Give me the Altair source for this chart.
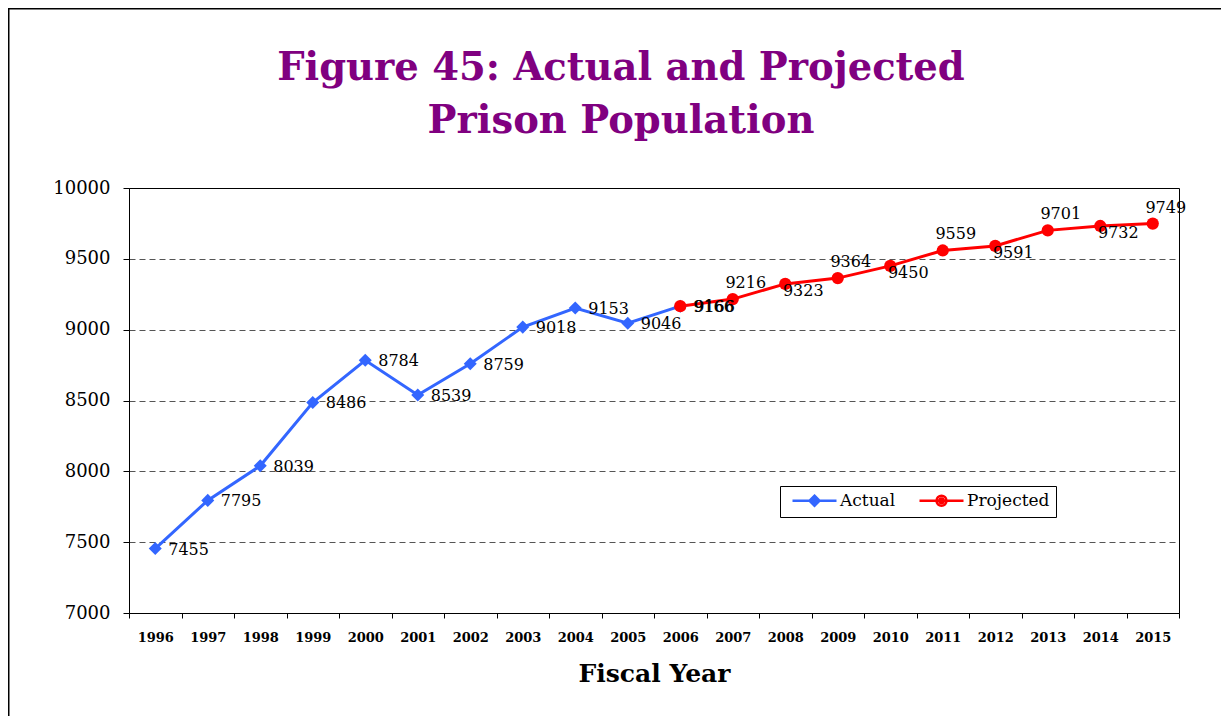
import altair as alt
import pandas as pd

# ---- data ----
years_actual = [1996, 1997, 1998, 1999, 2000, 2001, 2002, 2003, 2004, 2005, 2006]
actual = [7455, 7795, 8039, 8486, 8784, 8539, 8759, 9018, 9153, 9046, 9166]
years_projected = [2006, 2007, 2008, 2009, 2010, 2011, 2012, 2013, 2014, 2015]
projected = [9166, 9216, 9323, 9364, 9450, 9559, 9591, 9701, 9732, 9749]
series_names = ["Actual", "Projected"]
y_ticks = [7000, 7500, 8000, 8500, 9000, 9500, 10000]

df = pd.concat([
    pd.DataFrame({"year": years_actual, "value": actual, "series": series_names[0]}),
    pd.DataFrame({"year": years_projected, "value": projected, "series": series_names[1]}),
], ignore_index=True)

FONT = "DejaVu Serif"
BLUE = "#3366ff"
RED = "#ff0000"

x_enc = alt.X(
    "year:O",
    scale=alt.Scale(type="band", paddingInner=0, paddingOuter=0),
    axis=alt.Axis(
        title="Fiscal Year", labelAngle=0, labelFont=FONT, labelFontWeight="bold",
        labelFontSize=13, labelColor="black", tickBand="extent", tickSize=5,
        tickColor="black", domainColor="black", labelPadding=13,
        titleFont=FONT, titleFontSize=25, titleFontWeight="bold", titleColor="black",
        titlePadding=17, grid=False,
    ),
)
y_enc = alt.Y(
    "value:Q",
    scale=alt.Scale(domain=[7000, 10000], nice=False, zero=False),
    axis=alt.Axis(
        title=None, values=y_ticks, format="d", labelFont=FONT, labelFontSize=18,
        labelColor="black", tickSize=6, tickColor="black", domainColor="black",
        labelPadding=13,
        grid=True, gridColor="#555555", gridDash=[6, 4], gridWidth=1,
        gridOpacity=alt.condition("datum.value >= 10000 || datum.value <= 7000",
                                  alt.value(0), alt.value(1)),
    ),
)

base = alt.Chart(df)

frame = alt.Chart(pd.DataFrame({"k": [0]})).mark_rect(
    fill="transparent", stroke="black", strokeWidth=2
).encode(
    x=alt.value(-120.5), x2=alt.value(3000), y=alt.value(-179.5), y2=alt.value(3000)
)

act = base.transform_filter(alt.datum.series == "Actual")
proj = base.transform_filter(alt.datum.series == "Projected")

act_line = act.mark_line(color=BLUE, strokeWidth=3).encode(x=x_enc, y=y_enc)
proj_line = proj.mark_line(color=RED, strokeWidth=3).encode(x=x_enc, y=y_enc)
act_pts = act.mark_point(shape="diamond", filled=True, color=BLUE, size=170, opacity=1).encode(x=x_enc, y=y_enc)
proj_pts = proj.mark_point(shape="circle", filled=True, color=RED, size=150, opacity=1).encode(x=x_enc, y=y_enc)

lab_kw = dict(font=FONT, fontSize=16, color="black")
act_lab = act.mark_text(align="left", baseline="middle", dx=13, dy=1, **lab_kw).encode(
    x=x_enc, y=y_enc, text="value:Q")
proj_first = proj.transform_filter(alt.datum.year == 2006).mark_text(
    align="left", baseline="middle", dx=14, dy=1, **lab_kw).encode(x=x_enc, y=y_enc, text="value:Q")
proj_above = proj.transform_filter("datum.year > 2006 && datum.year % 2 == 1").mark_text(
    align="center", baseline="middle", dx=13, dy=-16, **lab_kw).encode(x=x_enc, y=y_enc, text="value:Q")
proj_below = proj.transform_filter("datum.year > 2006 && datum.year % 2 == 0").mark_text(
    align="center", baseline="middle", dx=18, dy=7, **lab_kw).encode(x=x_enc, y=y_enc, text="value:Q")

# legend symbols: line with marker (stroke-only paths drawn thick so they look filled)
diamond_path = ("M-4.4,0L4.4,0M0,-1L1,0L0,1L-1,0ZM0,-0.5L0.5,0L0,0.5L-0.5,0Z"
                "M0,-0.2L0,0.2")
circle_path = ("M-4.4,0L4.4,0M-1,0A1,1,0,1,0,1,0A1,1,0,1,0,-1,0Z"
               "M-0.45,0A0.45,0.45,0,1,0,0.45,0A0.45,0.45,0,1,0,-0.45,0ZM0,-0.2L0,0.2")
legend_layer = base.mark_point(filled=False, strokeWidth=2.5).encode(
    x=x_enc, y=y_enc,
    color=alt.Color("series:N", scale=alt.Scale(domain=series_names, range=[BLUE, RED]),
                    legend=alt.Legend(
                        title=None, orient="none", legendX=651, legendY=298,
                        direction="horizontal", strokeColor="black", fillColor="white",
                        padding=6, labelFont=FONT, labelFontSize=17, labelColor="black",
                        symbolSize=100, symbolStrokeWidth=2.5, symbolOpacity=1,
                        symbolOffset=20, labelOffset=17, columnPadding=17,
                    )),
    shape=alt.Shape("series:N", scale=alt.Scale(domain=series_names, range=[diamond_path, circle_path])),
    opacity=alt.value(0),
)

chart = alt.layer(
    frame, act_line, proj_line, act_pts, proj_pts, act_lab, proj_first, proj_above, proj_below,
    legend_layer,
).properties(
    width=1050, height=425,
    autosize=alt.AutoSizeParams(type="none"),
    padding={"left": 121, "top": 180, "right": 42, "bottom": 103},
    title=alt.Title(
        ["Figure 45: Actual and Projected", "Prison Population"],
        font=FONT, fontSize=38.5, fontWeight="bold", color="#800080",
        anchor="middle", dx=-33, offset=-134, lineHeight=53,
    ),
).configure(background="white").configure_view(stroke="black", strokeWidth=1)

chart.save("out.html", embed_options={"renderer": "svg", "actions": False})
